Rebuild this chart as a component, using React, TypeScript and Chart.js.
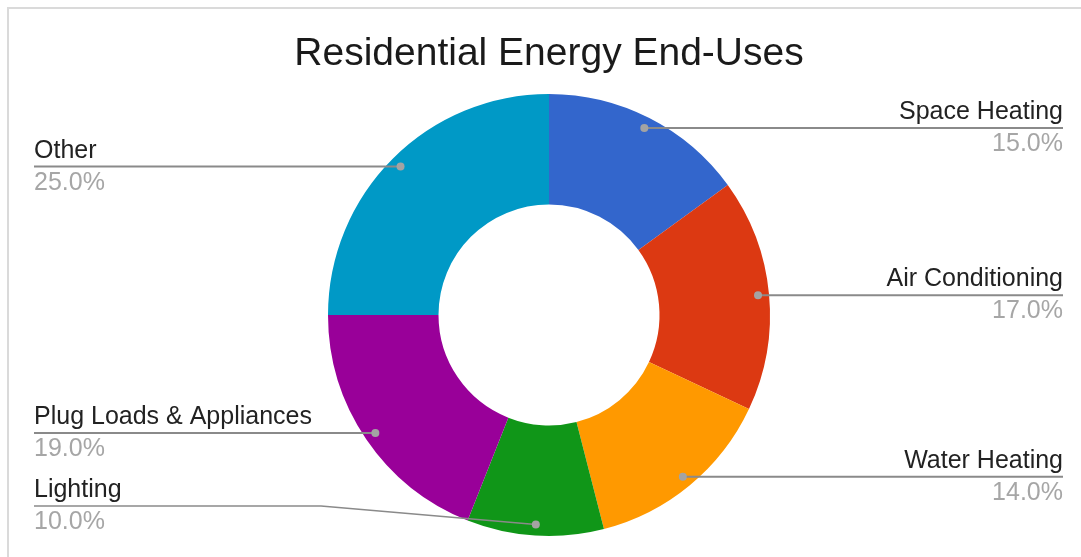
import React, { useEffect, useRef } from "react";
import { Chart, registerables } from "chart.js";

Chart.register(...registerables);

const TITLE = "Residential Energy End-Uses";
const categories = [
  "Space Heating",
  "Air Conditioning",
  "Water Heating",
  "Lighting",
  "Plug Loads & Appliances",
  "Other",
];
const shares = [15, 17, 14, 10, 19, 25];
const colors = ["#3366cc", "#dc3912", "#ff9900", "#109618", "#990099", "#0099c6"];

const FONT = "'Liberation Sans', Arial, sans-serif";

const labelPlugin = {
  id: "calloutLabels",
  beforeDraw(chart: any) {
    const ctx = chart.ctx;
    ctx.save();
    ctx.fillStyle = "#dadada";
    ctx.fillRect(7, 7, chart.width - 7, 2);
    ctx.fillRect(7, 7, 2, chart.height - 7);
    ctx.restore();
  },
  afterDraw(chart: any) {
    const ctx = chart.ctx;
    const meta = chart.getDatasetMeta(0);
    const data = chart.data.datasets[0].data as number[];
    const total = data.reduce((a, b) => a + b, 0);
    const ca = chart.chartArea;
    ctx.save();
    // title
    ctx.font = `39px ${FONT}`;
    ctx.fillStyle = "#1a1a1a";
    ctx.textAlign = "center";
    ctx.textBaseline = "alphabetic";
    ctx.fillText(TITLE, (ca.left + ca.right) / 2, 65);

    const leftX = 34;
    const rightX = 1063;
    meta.data.forEach((arc: any, i: number) => {
      const mid = (arc.startAngle + arc.endAngle) / 2;
      const r = arc.outerRadius * 0.95;
      const dx = arc.x + Math.cos(mid) * r;
      const dy = arc.y + Math.sin(mid) * r;
      const right = Math.cos(mid) >= 0;
      let lineY = Math.min(dy, ca.bottom - 30);
      ctx.strokeStyle = "#8a8a8a";
      ctx.lineWidth = 2;
      ctx.beginPath();
      if (right) {
        ctx.moveTo(dx, dy);
        ctx.lineTo(rightX, lineY);
      } else {
        ctx.moveTo(leftX, lineY);
        if (lineY !== dy) {
          const elbow = arc.x - arc.outerRadius - 7;
          ctx.lineTo(elbow, lineY);
          ctx.lineWidth = 1.5;
        }
        ctx.lineTo(dx, dy);
      }
      ctx.stroke();
      ctx.fillStyle = "#a3a3a3";
      ctx.beginPath();
      ctx.arc(dx, dy, 4, 0, Math.PI * 2);
      ctx.fill();

      ctx.textAlign = right ? "right" : "left";
      const tx = right ? rightX : leftX;
      ctx.font = `25px ${FONT}`;
      ctx.fillStyle = "#222222";
      ctx.fillText(categories[i], tx, lineY - 9);
      ctx.fillStyle = "#a6a6a6";
      ctx.fillText(((data[i] / total) * 100).toFixed(1) + "%", tx, lineY + 23);
    });
    ctx.restore();
  },
};

export default function App() {
  const ref = useRef<HTMLCanvasElement | null>(null);
  useEffect(() => {
    if (!ref.current) return;
    const chart = new Chart(ref.current, {
      type: "doughnut",
      data: {
        labels: categories,
        datasets: [
          {
            data: shares,
            backgroundColor: colors,
            borderWidth: 0,
          },
        ],
      },
      options: {
        responsive: false,
        animation: false,
        cutout: "50%",
        rotation: 0,
        layout: { padding: { left: 328, right: 311, top: 94, bottom: 21 } },
        plugins: {
          legend: { display: false },
          tooltip: { enabled: false },
          title: { display: false },
        },
      },
      plugins: [labelPlugin],
    });
    return () => chart.destroy();
  }, []);
  return (
    <div style={{ position: "fixed", left: 0, top: 0, width: 1081, height: 557, background: "#fff" }}>
      <canvas ref={ref} width={1081} height={557} style={{ width: 1081, height: 557, display: "block" }} />
    </div>
  );
}
